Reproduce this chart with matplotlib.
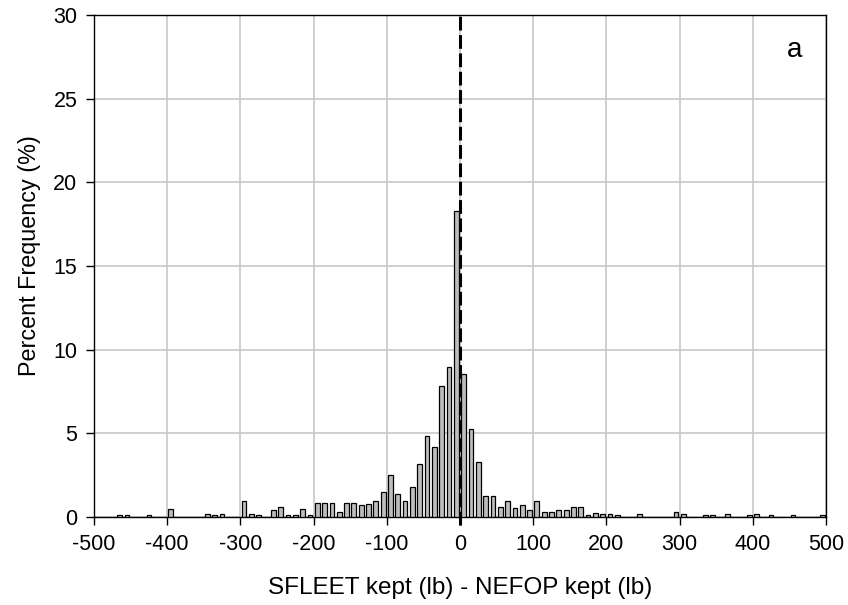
import matplotlib
matplotlib.use("Agg")
import matplotlib.pyplot as plt
import numpy as np

plt.rcParams['font.family'] = ['Liberation Sans', 'DejaVu Sans']

# bin centers (lb) and percent frequency
bin_centers = [-465, -455, -425, -395, -345, -335, -325, -295, -285, -275,
               -255, -245, -235, -225, -215, -205, -195, -185, -175, -165,
               -155, -145, -135, -125, -115, -105, -95, -85, -75, -65,
               -55, -45, -35, -25, -15, -5, 5, 15, 25, 35,
               45, 55, 65, 75, 85, 95, 105, 115, 125, 135,
               145, 155, 165, 175, 185, 195, 205, 215, 245, 295,
               305, 335, 345, 365, 395, 405, 425, 455, 495]
percent = [0.1, 0.1, 0.1, 0.5, 0.2, 0.1, 0.2, 0.95, 0.2, 0.1,
           0.4, 0.6, 0.1, 0.1, 0.5, 0.1, 0.85, 0.85, 0.85, 0.3,
           0.85, 0.85, 0.7, 0.8, 0.95, 1.5, 2.5, 1.35, 0.95, 1.8,
           3.15, 4.82, 4.2, 7.8, 8.95, 18.3, 8.53, 5.24, 3.26, 1.25,
           1.25, 0.62, 0.95, 0.52, 0.7, 0.4, 0.94, 0.3, 0.3, 0.4,
           0.4, 0.62, 0.62, 0.1, 0.25, 0.2, 0.2, 0.1, 0.2, 0.3,
           0.2, 0.1, 0.1, 0.2, 0.1, 0.2, 0.1, 0.1, 0.1]

xticks = [-500, -400, -300, -200, -100, 0, 100, 200, 300, 400, 500]
yticks = [0, 5, 10, 15, 20, 25, 30]

fig = plt.figure(figsize=(8.48, 6.05), dpi=100)
ax = fig.add_axes([94/848, 1-517/605, (826-94)/848, (517-15)/605])

ax.bar(bin_centers, percent, width=6.5, color='#bdbdbd', edgecolor='black',
       linewidth=0.9, zorder=3)
ax.axvline(0, ymin=-0.015, ymax=1, color='black', lw=2.2, ls=(0, (4.5, 1.5)),
           zorder=4, clip_on=False)

ax.set_xlim(-500, 500)
ax.set_ylim(0, 30)
ax.set_xticks(xticks)
ax.set_yticks(yticks)
ax.set_xticklabels([str(t) for t in xticks])
ax.grid(True, color='#c8c8c8', lw=1.2, zorder=0)
ax.set_axisbelow(True)
ax.tick_params(direction='out', length=6, width=1, labelsize=15.5, pad=6)
for s in ax.spines.values():
    s.set_linewidth(1)
    s.set_color('black')

ax.set_xlabel('SFLEET kept (lb) - NEFOP kept (lb)', fontsize=17.5, labelpad=16)
ax.set_ylabel('Percent Frequency (%)', fontsize=16.8)
ax.yaxis.set_label_coords(-0.072, 0.52)
ax.text(0.957, 0.93, 'a', transform=ax.transAxes, fontsize=20,
        ha='center', va='center')

fig.savefig('out.png', dpi=100)
